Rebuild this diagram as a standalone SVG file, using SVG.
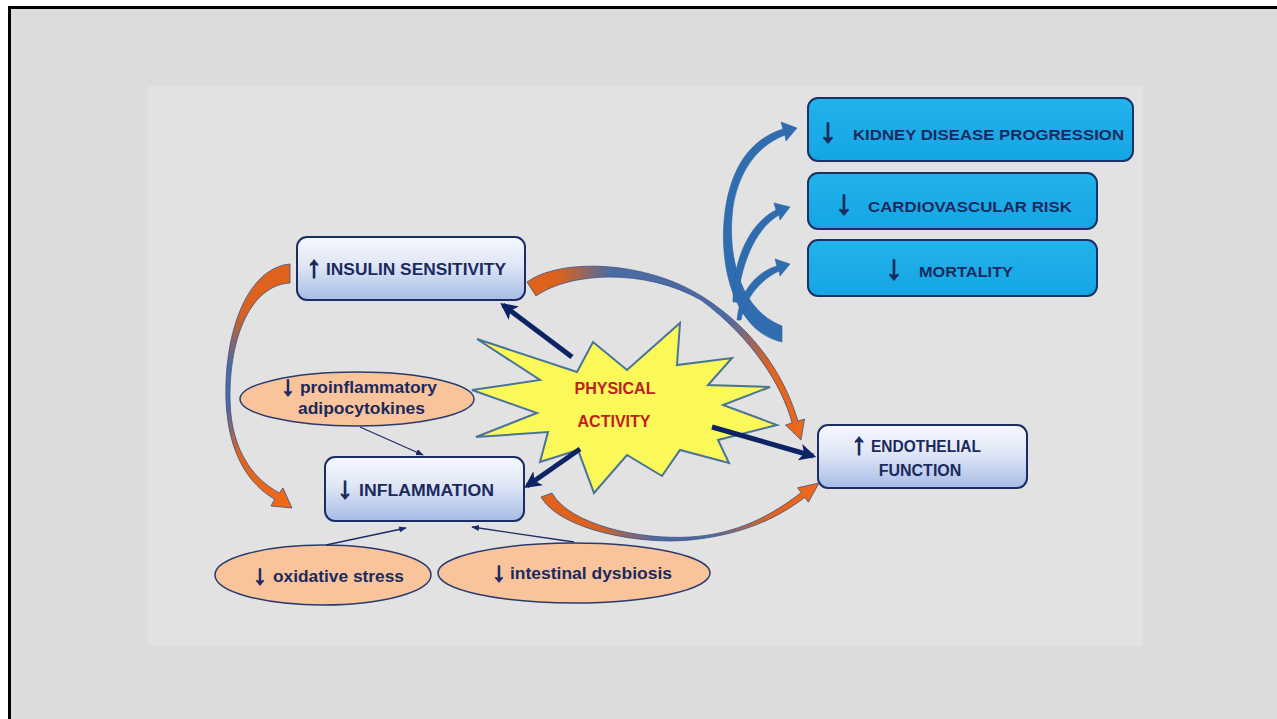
<svg xmlns="http://www.w3.org/2000/svg" width="1277" height="719" viewBox="0 0 1277 719">
<defs>
  <linearGradient id="boxGrad" x1="0" y1="0" x2="0" y2="1">
    <stop offset="0" stop-color="#f6f8fd"/>
    <stop offset="0.45" stop-color="#dfe6f6"/>
    <stop offset="1" stop-color="#a7bce6"/>
  </linearGradient>
  <linearGradient id="cyanGrad" x1="0" y1="0" x2="0" y2="1">
    <stop offset="0" stop-color="#22b2ec"/>
    <stop offset="1" stop-color="#14a6e4"/>
  </linearGradient>
  <linearGradient id="orgA" gradientUnits="userSpaceOnUse" x1="0" y1="264" x2="0" y2="508">
    <stop offset="0" stop-color="#e2631c"/>
    <stop offset="0.2" stop-color="#d8621f"/>
    <stop offset="0.42" stop-color="#4a6ba6"/>
    <stop offset="0.58" stop-color="#4a6ba6"/>
    <stop offset="0.78" stop-color="#e2631c"/>
    <stop offset="1" stop-color="#f0691a"/>
  </linearGradient>
  <linearGradient id="orgB" gradientUnits="userSpaceOnUse" x1="527" y1="0" x2="805" y2="0">
    <stop offset="0" stop-color="#e2631c"/>
    <stop offset="0.12" stop-color="#d8621f"/>
    <stop offset="0.3" stop-color="#4a6ba6"/>
    <stop offset="0.72" stop-color="#4a6ba6"/>
    <stop offset="0.88" stop-color="#e2631c"/>
    <stop offset="1" stop-color="#f0691a"/>
  </linearGradient>
  <linearGradient id="orgC" gradientUnits="userSpaceOnUse" x1="541" y1="0" x2="819" y2="0">
    <stop offset="0" stop-color="#e2631c"/>
    <stop offset="0.2" stop-color="#d8621f"/>
    <stop offset="0.42" stop-color="#4a6ba6"/>
    <stop offset="0.6" stop-color="#4a6ba6"/>
    <stop offset="0.82" stop-color="#e2631c"/>
    <stop offset="1" stop-color="#f0691a"/>
  </linearGradient>
  <marker id="navyHead" viewBox="0 0 10 10" refX="8" refY="5" markerWidth="3.4" markerHeight="3.4" orient="auto" markerUnits="strokeWidth">
    <path d="M0,0 L10,5 L0,10 L2.5,5 z" fill="#0c2466"/>
  </marker>
  <marker id="thinHead" viewBox="0 0 10 10" refX="9" refY="5" markerWidth="6" markerHeight="6" orient="auto" markerUnits="strokeWidth">
    <path d="M0,1 L10,5 L0,9 z" fill="#1c2d66"/>
  </marker>
</defs>
<style>
  .lbl { font-family: "Liberation Sans", "DejaVu Sans", sans-serif; font-weight: bold; fill: #1b2a5e; }
  .arw { font-family: "Liberation Sans", "DejaVu Sans", sans-serif; font-weight: bold; fill: #1b2a5e; stroke: #1b2a5e; stroke-width: 1.2; }
  .red { font-family: "Liberation Sans", "DejaVu Sans", sans-serif; font-weight: bold; fill: #c0201c; }
  .lightbox { fill: url(#boxGrad); stroke: #1c2d66; stroke-width: 2; }
  .cyanbox { fill: url(#cyanGrad); stroke: #1a3266; stroke-width: 2; }
  .peach { fill: #f9c49b; stroke: #2a3a6c; stroke-width: 1.5; }
  .navy { fill: none; stroke: #0c2466; stroke-width: 5; marker-end: url(#navyHead); }
  .thin { fill: none; stroke: #1c2d66; stroke-width: 1.3; marker-end: url(#thinHead); }
  .bluearc { fill: #2f6cb0; stroke: #2a62a3; stroke-width: 0.6; }
  .orgarc { stroke: #3c4f80; stroke-width: 0.8; }
</style>

<rect width="1277" height="719" fill="#ffffff"/>
<rect x="9" y="7" width="1268" height="712" fill="#dcdcdc"/>
<path d="M9.5 719 V7.5 H1277" fill="none" stroke="#000000" stroke-width="3"/>
<rect x="148" y="86" width="995" height="560" fill="#e2e2e2"/>

<g id="node-kidney">
  <rect class="cyanbox" x="808" y="98" width="325" height="63" rx="10"/>
  <text class="arw" x="828" y="142" font-size="34" text-anchor="middle">↓</text>
  <text class="lbl" x="853" y="140" font-size="15" textLength="271" lengthAdjust="spacingAndGlyphs">KIDNEY DISEASE PROGRESSION</text>
</g>
<g id="node-cardio">
  <rect class="cyanbox" x="808" y="173" width="289" height="56" rx="10"/>
  <text class="arw" x="844" y="214" font-size="34" text-anchor="middle">↓</text>
  <text class="lbl" x="868" y="212" font-size="15" textLength="204" lengthAdjust="spacingAndGlyphs">CARDIOVASCULAR RISK</text>
</g>
<g id="node-mortality">
  <rect class="cyanbox" x="808" y="240" width="289" height="56" rx="10"/>
  <text class="arw" x="894" y="279" font-size="34" text-anchor="middle">↓</text>
  <text class="lbl" x="919" y="277" font-size="15" textLength="94" lengthAdjust="spacingAndGlyphs">MORTALITY</text>
</g>

<g id="node-insulin">
  <rect class="lightbox" x="297" y="237" width="228" height="63" rx="10"/>
  <text class="arw" x="314" y="277" font-size="30" text-anchor="middle">↑</text>
  <text class="lbl" x="326" y="275" font-size="16" textLength="180" lengthAdjust="spacingAndGlyphs">INSULIN SENSITIVITY</text>
</g>

<g id="node-inflammation">
  <rect class="lightbox" x="325" y="457" width="199" height="64" rx="10"/>
  <text class="arw" x="345" y="498" font-size="30" text-anchor="middle">↓</text>
  <text class="lbl" x="359" y="496" font-size="16" textLength="135" lengthAdjust="spacingAndGlyphs">INFLAMMATION</text>
</g>

<g id="node-endothelial">
  <rect class="lightbox" x="818" y="425" width="209" height="63" rx="10"/>
  <text class="arw" x="859" y="454" font-size="30" text-anchor="middle">↑</text>
  <text class="lbl" x="871" y="452" font-size="16" textLength="110" lengthAdjust="spacingAndGlyphs">ENDOTHELIAL</text>
  <text class="lbl" x="920" y="476" font-size="16" text-anchor="middle">FUNCTION</text>
</g>

<g id="node-physical">
  <polygon points="477,339 577,372 593,342 627,370 680,323 677,365 732,358 708,385 770,387 723,405 777,425 718,440 729,463 680,450 662,476 627,455 594,493 578,450 540,462 548,432 476,437 537,413 472,390 540,380" fill="#fbf85a" stroke="#4a7496" stroke-width="2" stroke-linejoin="miter"/>
  <text class="red" x="615" y="394" font-size="16" text-anchor="middle">PHYSICAL</text>
  <text class="red" x="614" y="427" font-size="16" text-anchor="middle">ACTIVITY</text>
</g>

<g id="node-proinflammatory">
  <ellipse class="peach" cx="357" cy="399" rx="117" ry="27"/>
  <text class="arw" x="288" y="395" font-size="27" text-anchor="middle">↓</text>
  <text class="lbl" x="300" y="393" font-size="16" textLength="137" lengthAdjust="spacingAndGlyphs">proinflammatory</text>
  <text class="lbl" x="298" y="414" font-size="16" textLength="127" lengthAdjust="spacingAndGlyphs">adipocytokines</text>
</g>

<g id="node-oxidative">
  <ellipse class="peach" cx="323" cy="575" rx="108" ry="30"/>
  <text class="arw" x="260" y="584" font-size="27" text-anchor="middle">↓</text>
  <text class="lbl" x="273" y="582" font-size="16" textLength="131" lengthAdjust="spacingAndGlyphs">oxidative stress</text>
</g>

<g id="node-dysbiosis">
  <ellipse class="peach" cx="574" cy="573" rx="136" ry="30"/>
  <text class="arw" x="499" y="581" font-size="27" text-anchor="middle">↓</text>
  <text class="lbl" x="510" y="579" font-size="16" textLength="162" lengthAdjust="spacingAndGlyphs">intestinal dysbiosis</text>
</g>

<g id="connectors">
  <!-- blue branching arrows to outcomes -->
  <path class="bluearc" d="M782 342 C735 332, 716 265, 726 205 C734 160, 755 138, 783 129 L781 122 L797 128 L786 141 L785 135 C762 144, 740 165, 733 207 C726 262, 744 312, 782 326 Z"/>
  <path class="bluearc" d="M733 302 C733 255, 752 222, 776 210 L774 203 L790 207 L780 220 L779 215 C758 227, 742 258, 737 302 Z"/>
  <path class="bluearc" d="M737 320 C740 290, 757 272, 777 266 L775 259 L790 264 L780 276 L779 271 C762 279, 746 296, 741 320 Z"/>

  <!-- orange curved arrows -->
  <path class="orgarc" fill="url(#orgA)" d="M290 264 C248 268, 224 330, 226 400 C228 455, 250 485, 274.6 499.2 L271 506 L292 508 L283 488 L279.4 492.8 C258 482, 231 455, 230 400 C229 335, 252 285, 290 283 Z"/>
  <path class="orgarc" fill="url(#orgB)" d="M527 282 C560 258, 645 260, 703 297 C758 332, 786 380, 797.9 421.1 L804.5 419 L801 440 L785.5 425 L792.1 422.9 C782 385, 752 338, 701 300 C645 268, 570 272, 536 296 Z"/>
  <path class="orgarc" fill="url(#orgC)" d="M541 497 C560 530, 640 545, 690 540 C740 535, 775 520, 804.8 497.4 L808.4 502.2 L819 483 L797.6 487.8 L801.2 492.6 C772 515, 738 534, 690 537 C640 540, 570 525, 552 493 Z"/>

  <!-- thick navy arrows from physical activity -->
  <line class="navy" x1="572" y1="357" x2="503" y2="305"/>
  <line class="navy" x1="580" y1="449" x2="527" y2="486"/>
  <line class="navy" x1="712" y1="427" x2="813" y2="456"/>

  <!-- thin arrows into inflammation -->
  <line class="thin" x1="360" y1="427" x2="423" y2="455"/>
  <line class="thin" x1="326" y1="545" x2="406" y2="528"/>
  <line class="thin" x1="574" y1="542" x2="472" y2="527"/>
</g>
</svg>
